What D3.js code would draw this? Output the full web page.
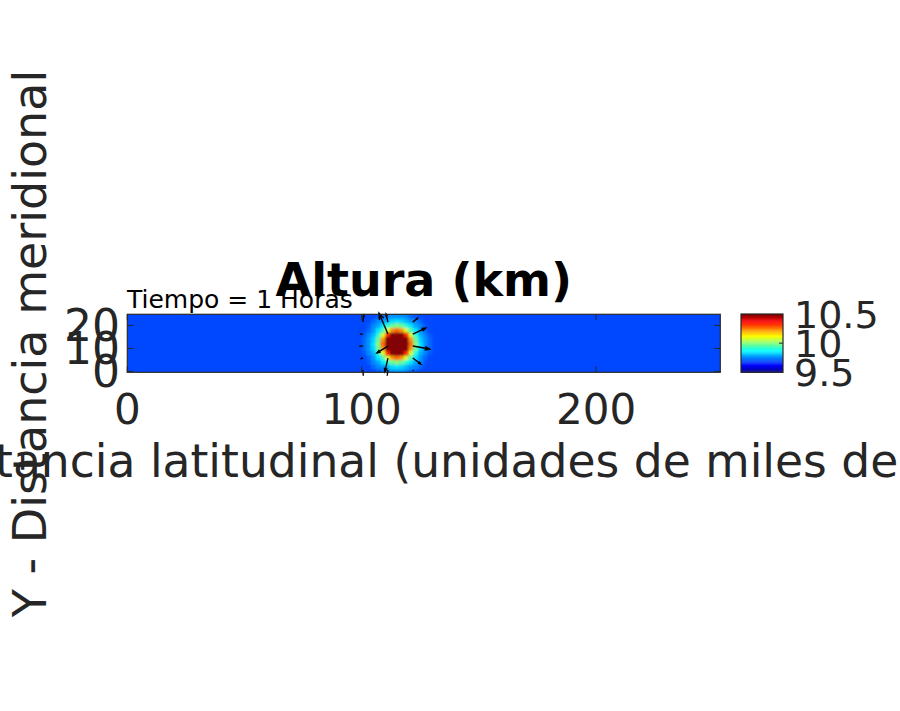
<!DOCTYPE html>
<html><head><meta charset="utf-8">
<script src="https://cdn.jsdelivr.net/npm/d3@7"></script>
<style>
body{margin:0;background:#fff;}
text{font-family:"DejaVu Sans",sans-serif;fill:#262626;}
</style>
</head><body>
<svg id="chart" width="900" height="711"></svg>
<script>
// ---------------- data ----------------
const titleText = "Altura (km)";
const subtitleText = "Tiempo = 1 Horas";
const xLabelText = "X - Distancia latitudinal (unidades de miles de km)";
const yLabelText = "Y - Distancia meridional";
const xDomain = [0, 253];
const yDomain = [-0.4, 24.8];
const xTicks = [0, 100, 200];
const yTicks = [0, 10, 20];
const cbDomain = [9.5, 10.5];
const cbTicks = [9.5, 10, 10.5];
const cbTickLabels = ["9.5", "10", "10.5"];
const backgroundHeight = 9.7;
// grid of the height bump (cell centres, cell size 2 units)
const cellX = [101,103,105,107,109,111,113,115,117,119,121,123,125,127,129];
const cellY = [0,2,4,6,8,10,12,14,16,18,20,22,24];
const heightRows = [
  [9.70,9.70,9.70,9.71,9.73,9.75,9.77,9.77,9.77,9.75,9.73,9.71,9.70,9.70,9.70],
  [9.70,9.70,9.72,9.75,9.78,9.81,9.84,9.85,9.84,9.81,9.78,9.75,9.72,9.70,9.70],
  [9.70,9.71,9.75,9.79,9.85,9.91,9.97,10.00,9.97,9.91,9.85,9.79,9.75,9.71,9.70],
  [9.70,9.73,9.78,9.85,9.95,10.09,10.23,10.28,10.23,10.09,9.95,9.85,9.78,9.73,9.70],
  [9.71,9.75,9.81,9.91,10.09,10.33,10.50,10.55,10.50,10.33,10.09,9.91,9.81,9.75,9.71],
  [9.72,9.77,9.84,9.97,10.23,10.50,10.60,10.60,10.60,10.50,10.23,9.97,9.84,9.77,9.72],
  [9.72,9.77,9.85,10.00,10.28,10.55,10.60,10.60,10.60,10.55,10.28,10.00,9.85,9.77,9.72],
  [9.72,9.77,9.84,9.97,10.23,10.50,10.60,10.60,10.60,10.50,10.23,9.97,9.84,9.77,9.72],
  [9.71,9.75,9.81,9.91,10.09,10.33,10.50,10.55,10.50,10.33,10.09,9.91,9.81,9.75,9.71],
  [9.70,9.73,9.78,9.85,9.95,10.09,10.23,10.28,10.23,10.09,9.95,9.85,9.78,9.73,9.70],
  [9.70,9.71,9.75,9.79,9.85,9.91,9.97,10.00,9.97,9.91,9.85,9.79,9.75,9.71,9.70],
  [9.70,9.70,9.72,9.75,9.78,9.81,9.84,9.85,9.84,9.81,9.78,9.75,9.72,9.70,9.70],
  [9.70,9.70,9.70,9.71,9.73,9.75,9.77,9.77,9.77,9.75,9.73,9.71,9.70,9.70,9.70]
];
// velocity arrows (quiver)
const arrowX = [100.5,100.5,100.5,100.5,100.5, 111.2,111.2,111.2,111.2,111.2, 121.8,121.8,121.8,121.8,121.8];
const arrowY = [21.4,16.2,11.0,5.8,0.6, 21.4,16.2,11.0,5.8,0.6, 21.4,16.2,11.0,5.8,0.6];
const arrowU = [0.4,-1.3,-1.5,-1.0,0.2, -0.8,-3.8,-4.7,-1.3,-0.3, 2.0,5.5,7.2,3.4,0.3];
const arrowV = [3.0,0.0,0.0,-0.3,-2.5, 3.5,9.1,-3.0,-6.0,-2.5, 1.7,2.6,-1.3,-2.6,-0.3];

// ---------------- layout ----------------
const svg = d3.select("#chart");
const plot = {x0:127.3, x1:720.3, y0:314.3, y1:372.3};
const cb = {x0:741, x1:783, y0:314, y1:372.3};
const xs = d3.scaleLinear().domain(xDomain).range([plot.x0, plot.x1]);
const ys = d3.scaleLinear().domain(yDomain).range([plot.y1, plot.y0]);
const cs = d3.scaleLinear().domain(cbDomain).range([cb.y1, cb.y0]);

function jet(t){
  let i = Math.floor(t*64); i = Math.max(0, Math.min(63, i));
  const u = (i+0.5)/64;
  const cl = v => Math.max(0, Math.min(1, v));
  const r = cl(Math.min(4*u-1.5, -4*u+4.5));
  const g = cl(Math.min(4*u-0.5, -4*u+3.5));
  const b = cl(Math.min(4*u+0.5, -4*u+2.5));
  return d3.rgb(r*255, g*255, b*255).toString();
}
const colorOf = v => jet((v - cbDomain[0])/(cbDomain[1]-cbDomain[0]));

const defs = svg.append("defs");
defs.append("clipPath").attr("id","pclip")
  .append("rect").attr("x",plot.x0).attr("y",plot.y0)
  .attr("width",plot.x1-plot.x0).attr("height",plot.y1-plot.y0);
defs.append("filter").attr("id","soft").attr("x","-20%").attr("y","-20%").attr("width","140%").attr("height","140%")
  .append("feGaussianBlur").attr("stdDeviation",1.2);

const field = svg.append("g").attr("clip-path","url(#pclip)");
field.append("rect").attr("x",xs(xDomain[0])).attr("y",ys(yDomain[1]))
  .attr("width",xs(xDomain[1])-xs(xDomain[0])).attr("height",ys(yDomain[0])-ys(yDomain[1]))
  .attr("fill",colorOf(backgroundHeight));
const cells = [];
heightRows.forEach((row,i)=>row.forEach((v,j)=>cells.push({x:cellX[j],y:cellY[i],v})));
field.append("g").attr("filter","url(#soft)")
  .selectAll("rect.cell").data(cells).join("rect").attr("class","cell")
  .attr("x",d=>xs(d.x-1)).attr("y",d=>ys(d.y+1))
  .attr("width",d=>xs(d.x+1)-xs(d.x-1)+0.3).attr("height",d=>ys(d.y-1)-ys(d.y+1)+0.3)
  .attr("fill",d=>colorOf(d.v));

// axes ticks (inward) on all sides
const axG = svg.append("g").attr("stroke","#262626").attr("stroke-width",1);
xTicks.forEach(t=>{
  axG.append("line").attr("x1",xs(t)).attr("x2",xs(t)).attr("y1",plot.y1).attr("y2",plot.y1-6);
  axG.append("line").attr("x1",xs(t)).attr("x2",xs(t)).attr("y1",plot.y0).attr("y2",plot.y0+6);
});
yTicks.forEach(t=>{
  axG.append("line").attr("x1",plot.x0).attr("x2",plot.x0+6).attr("y1",ys(t)).attr("y2",ys(t));
  axG.append("line").attr("x1",plot.x1).attr("x2",plot.x1-6).attr("y1",ys(t)).attr("y2",ys(t));
});

// arrows
const arrows = arrowX.map((x,i)=>({x, y:arrowY[i], u:arrowU[i], v:arrowV[i]}));
const ag = svg.append("g").attr("stroke","#000").attr("stroke-width",1.4).attr("fill","none");
arrows.forEach(a=>{
  const x1 = xs(a.x), y1 = ys(a.y), x2 = xs(a.x+a.u), y2 = ys(a.y+a.v);
  const dx = x2-x1, dy = y2-y1, L = Math.hypot(dx,dy);
  ag.append("line").attr("x1",x1).attr("y1",y1).attr("x2",x2).attr("y2",y2);
  if (L > 6) {
    const h = L*0.3, ang = Math.atan2(dy,dx), w = 0.35;
    ag.append("path").attr("d",
      `M${x2-h*Math.cos(ang-w)},${y2-h*Math.sin(ang-w)}L${x2},${y2}L${x2-h*Math.cos(ang+w)},${y2-h*Math.sin(ang+w)}`);
  }
});

// box
svg.append("rect").attr("x",plot.x0).attr("y",plot.y0)
  .attr("width",plot.x1-plot.x0).attr("height",plot.y1-plot.y0)
  .attr("fill","none").attr("stroke","#262626").attr("stroke-width",1.2);

// tick labels
svg.append("g").selectAll("text").data(xTicks).join("text")
  .attr("x",d=>xs(d)).attr("y",424).attr("text-anchor","middle")
  .attr("font-size",42).text(d=>d);
svg.append("g").selectAll("text").data(yTicks).join("text")
  .attr("x",120).attr("y",d=>ys(d)).attr("dy","0.36em").attr("text-anchor","end")
  .attr("font-size",44).text(d=>d);

// colorbar
const cbSteps = d3.range(64);
svg.append("g").selectAll("rect").data(cbSteps).join("rect")
  .attr("x",cb.x0).attr("width",cb.x1-cb.x0)
  .attr("y",i=>cs(cbDomain[0]+(i+1)/64*(cbDomain[1]-cbDomain[0])))
  .attr("height",(cb.y1-cb.y0)/64+0.4)
  .attr("fill",i=>jet((i+0.5)/64));
svg.append("rect").attr("x",cb.x0).attr("y",cb.y0).attr("width",cb.x1-cb.x0).attr("height",cb.y1-cb.y0)
  .attr("fill","none").attr("stroke","#262626").attr("stroke-width",1.2);
svg.append("line").attr("x1",cb.x1).attr("x2",cb.x1-4).attr("y1",cs(10)).attr("y2",cs(10))
  .attr("stroke","#262626");
svg.append("g").selectAll("text").data(cbTicks).join("text")
  .attr("x",794).attr("y",d=>cs(d)).attr("dy","0.36em")
  .attr("font-size",38).text((d,i)=>cbTickLabels[i]);

// subtitle and title
svg.append("text").attr("x",127).attr("y",308).attr("font-size",25).style("fill","#000")
  .text(subtitleText);
svg.append("text").attr("x",(plot.x0+plot.x1)/2).attr("y",296).attr("text-anchor","middle")
  .attr("font-size",46).attr("font-weight","bold").style("fill","#000").text(titleText);

// axis labels
const xl = svg.append("text").attr("y",477).attr("font-size",45.6).text(xLabelText);
const pre = xl.node().getSubStringLength(0,7);
xl.attr("x", -pre - 5);
svg.append("text").attr("transform","translate(46,343.5) rotate(-90)")
  .attr("text-anchor","middle").attr("font-size",46).text(yLabelText);
</script>
</body></html>
